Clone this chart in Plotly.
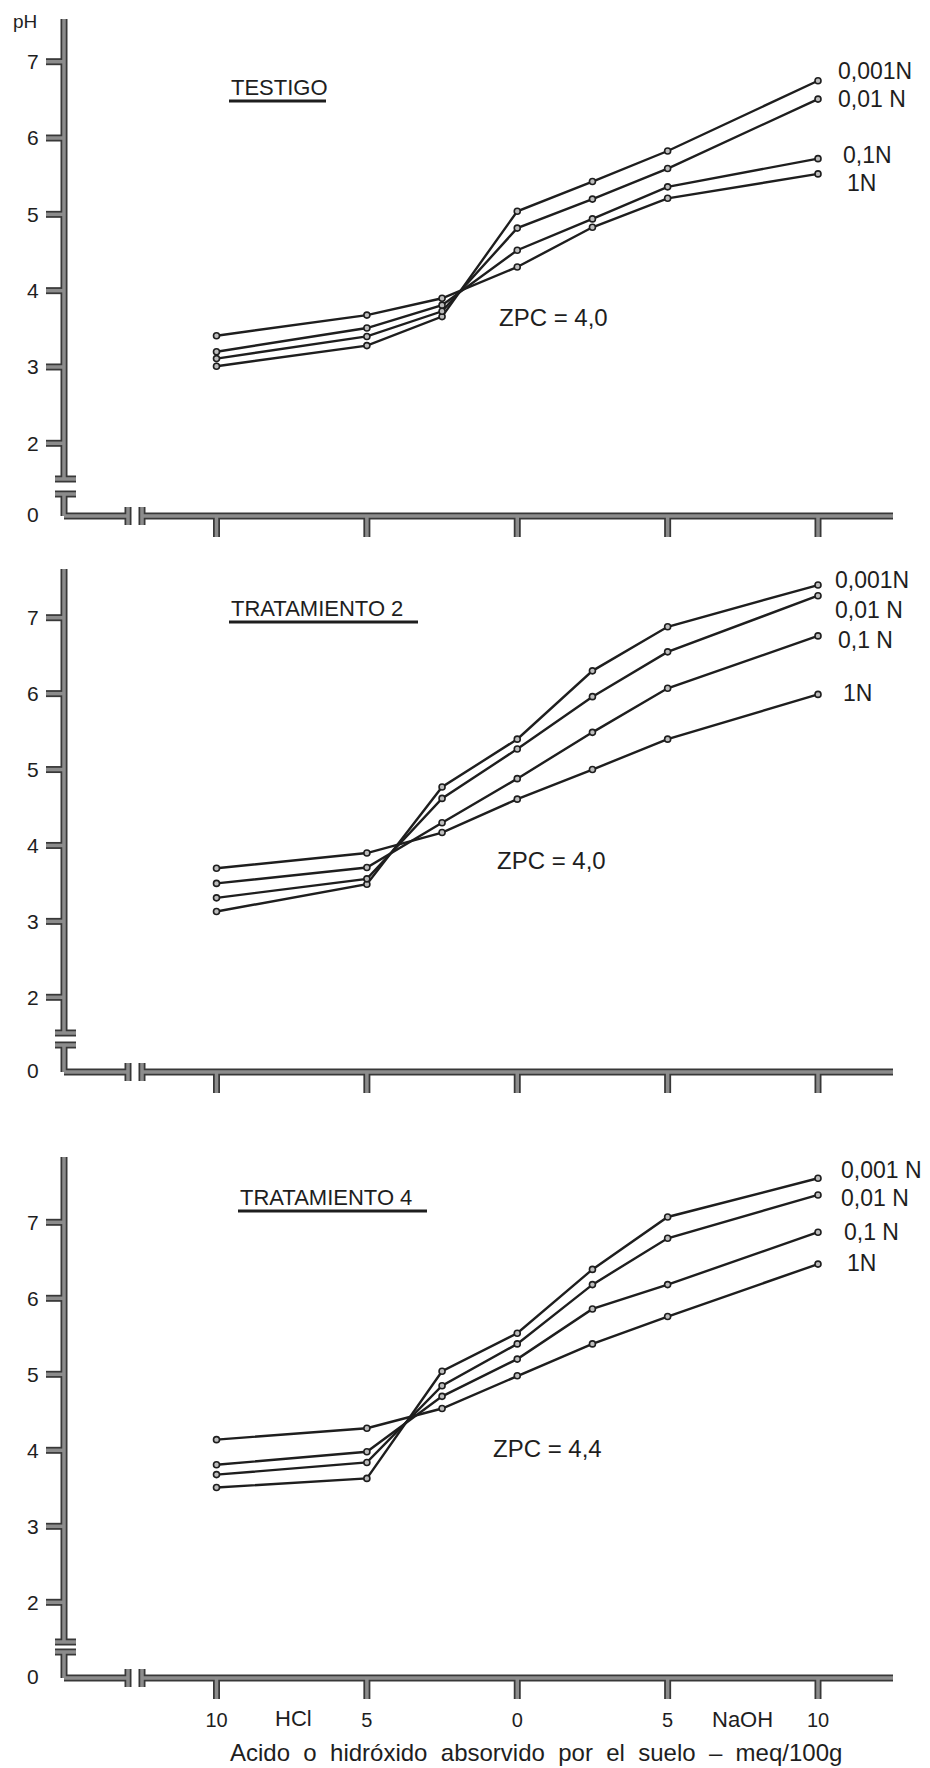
import plotly.graph_objects as go

# ---------------- data ----------------
X_MEQ = [-10, -5, -2.5, 0, 2.5, 5, 10]          # HCl (negative) ... NaOH (positive), meq/100g
X_TICKS = [-10, -5, 0, 5, 10]
X_TICKTEXT = ["10", "5", "0", "5", "10"]
Y_TICKS = [2, 3, 4, 5, 6, 7]

PANEL_TITLES = ["TESTIGO", "TRATAMIENTO 2", "TRATAMIENTO 4"]
ZPC_TEXT = ["ZPC = 4,0", "ZPC = 4,0", "ZPC = 4,4"]
SERIES_LABELS = [
    ["0,001N", "0,01 N", "0,1N", "1N"],
    ["0,001N", "0,01 N", "0,1 N", "1N"],
    ["0,001 N", "0,01 N", "0,1 N", "1N"],
]

# TESTIGO
T0_0001N = [3.01, 3.28, 3.66, 5.04, 5.43, 5.83, 6.75]
T0_001N = [3.11, 3.40, 3.73, 4.82, 5.20, 5.60, 6.51]
T0_01N = [3.20, 3.51, 3.81, 4.53, 4.94, 5.36, 5.73]
T0_1N = [3.41, 3.68, 3.90, 4.31, 4.83, 5.21, 5.53]
# TRATAMIENTO 2
T2_0001N = [3.13, 3.49, 4.77, 5.40, 6.30, 6.88, 7.43]
T2_001N = [3.31, 3.56, 4.62, 5.27, 5.96, 6.55, 7.29]
T2_01N = [3.50, 3.71, 4.30, 4.88, 5.49, 6.07, 6.76]
T2_1N = [3.70, 3.90, 4.17, 4.61, 5.00, 5.40, 5.99]
# TRATAMIENTO 4
T4_0001N = [3.51, 3.63, 5.04, 5.54, 6.38, 7.07, 7.58]
T4_001N = [3.68, 3.84, 4.85, 5.40, 6.18, 6.79, 7.36]
T4_01N = [3.81, 3.98, 4.71, 5.20, 5.86, 6.18, 6.87]
T4_1N = [4.14, 4.29, 4.55, 4.98, 5.40, 5.76, 6.45]

DATA = [
    [T0_0001N, T0_001N, T0_01N, T0_1N],
    [T2_0001N, T2_001N, T2_01N, T2_1N],
    [T4_0001N, T4_001N, T4_01N, T4_1N],
]

X_TITLE = "Acido  o  hidróxido  absorvido  por  el  suelo  –  meq/100g".replace("  ", " \u00a0")

# ---------------- layout geometry (pixels) ----------------
W, H = 930, 1768
X_PX_M10, X_PX_P10 = 216.5, 818.0
XPU = (X_PX_P10 - X_PX_M10) / 20.0


def xval(px):
    return -10 + (px - X_PX_M10) / XPU


PANELS = [
    dict(ph7=61.7, ph2=443.3, dom=(0, 545), top=19, cap1=479, cap2=494, axis=516,
         title=(229, 87, 326, 101), zpc=(497, 317),
         labels=[(836, 71), (836, 99), (841, 155), (845, 183)]),
    dict(ph7=617.7, ph2=997.3, dom=(550, 1100), top=569, cap1=1033, cap2=1045, axis=1072,
         title=(229, 608, 418, 622), zpc=(495, 860),
         labels=[(833, 580), (833, 610), (836, 640), (841, 693)]),
    dict(ph7=1222.3, ph2=1602.3, dom=(1110, 1768), top=1157, cap1=1642, cap2=1652, axis=1678,
         title=(238, 1197, 427, 1211), zpc=(491, 1448),
         labels=[(839, 1170), (839, 1198), (842, 1232), (845, 1263)]),
]

YAX_PX = 64
FONT = "Liberation Sans, Arial, sans-serif"
INK = "#1e1e1e"
AX_DARK = "#383838"
AX_GREY = "#8c8c8c"

fig = go.Figure()
shapes_dark, shapes_grey, annotations = [], [], []
layout_axes = {}


def px2paper(px, py):
    return px / W, 1 - py / H


for i, p in enumerate(PANELS):
    s = "" if i == 0 else str(i + 1)
    ppu = (p["ph2"] - p["ph7"]) / 5.0

    def ph(py, p=p, ppu=ppu):
        return 7 - (py - p["ph7"]) / ppu

    yr = [ph(p["dom"][1]), ph(p["dom"][0])]
    dom = [1 - p["dom"][1] / H, 1 - p["dom"][0] / H]
    last = i == len(PANELS) - 1

    layout_axes["xaxis" + s] = dict(
        domain=[0, 1], range=[xval(0), xval(W)], showgrid=False, zeroline=False,
        showline=False, ticks="outside", ticklen=24, tickcolor="rgba(0,0,0,0)",
        anchor="free", position=1 - p["axis"] / H,
        tickvals=X_TICKS, ticktext=X_TICKTEXT, showticklabels=last,
        tickfont=dict(family=FONT, size=20, color=INK),
    )
    layout_axes["yaxis" + s] = dict(
        domain=dom, range=yr, showgrid=False, zeroline=False, showline=False,
        ticks="outside", ticklen=21, tickcolor="rgba(0,0,0,0)",
        anchor="free", position=YAX_PX / W,
        tickvals=[ph(p["axis"]) + 0.02] + Y_TICKS,
        ticktext=["0"] + [str(v) for v in Y_TICKS],
        tickfont=dict(family=FONT, size=21, color=INK),
    )

    xr, yrf = "x" + s, "y" + s
    segs = [
        (xval(YAX_PX), ph(p["top"]), xval(YAX_PX), ph(p["cap1"])),
        (xval(55), ph(p["cap1"]), xval(76), ph(p["cap1"])),
        (xval(55), ph(p["cap2"]), xval(76), ph(p["cap2"])),
        (xval(YAX_PX), ph(p["cap2"]), xval(YAX_PX), ph(p["axis"])),
        (xval(YAX_PX), ph(p["axis"]), xval(128), ph(p["axis"])),
        (xval(128), ph(p["axis"] - 9), xval(128), ph(p["axis"] + 9)),
        (xval(142), ph(p["axis"] - 9), xval(142), ph(p["axis"] + 9)),
        (xval(142), ph(p["axis"]), xval(893), ph(p["axis"])),
    ]
    for xt in X_TICKS:
        segs.append((xt, ph(p["axis"]), xt, ph(p["axis"] + 21)))
    for yt in Y_TICKS:
        segs.append((xval(46), yt, xval(YAX_PX), yt))
    for (x0, y0, x1, y1) in segs:
        shapes_dark.append(dict(type="line", xref=xr, yref=yrf, x0=x0, y0=y0, x1=x1, y1=y1,
                                line=dict(color=AX_DARK, width=7), layer="below"))
        shapes_grey.append(dict(type="line", xref=xr, yref=yrf, x0=x0, y0=y0, x1=x1, y1=y1,
                                line=dict(color=AX_GREY, width=3.5), layer="below"))

    # data traces
    for ys in DATA[i]:
        fig.add_trace(go.Scatter(
            x=X_MEQ, y=ys, xaxis=xr, yaxis=yrf, mode="lines+markers",
            line=dict(color=INK, width=2.4),
            marker=dict(symbol="circle", size=6, color="#bdbdbd", line=dict(color=INK, width=1.6)),
            showlegend=False, hoverinfo="x+y", cliponaxis=False,
        ))

    # panel title + underline
    tx, ty, ux1, uy = p["title"]
    ax_, ay_ = px2paper(tx, ty)
    annotations.append(dict(text=PANEL_TITLES[i], x=ax_, y=ay_, xref="paper", yref="paper",
                            xanchor="left", yanchor="middle", showarrow=False,
                            font=dict(family=FONT, size=22, color=INK)))
    u0 = px2paper(tx, uy)
    u1 = px2paper(ux1, uy)
    shapes_grey.append(dict(type="line", xref="paper", yref="paper", x0=u0[0], y0=u0[1],
                            x1=u1[0], y1=u1[1], line=dict(color=INK, width=3)))

    zx, zy = px2paper(*p["zpc"])
    annotations.append(dict(text=ZPC_TEXT[i], x=zx, y=zy, xref="paper", yref="paper",
                            xanchor="left", yanchor="middle", showarrow=False,
                            font=dict(family=FONT, size=24, color=INK)))
    for lab, (lx, ly) in zip(SERIES_LABELS[i], p["labels"]):
        a, b = px2paper(lx, ly)
        annotations.append(dict(text=lab, x=a, y=b, xref="paper", yref="paper",
                                xanchor="left", yanchor="middle", showarrow=False,
                                font=dict(family=FONT, size=23, color=INK)))

# extra labels
for txt, (lx, ly), size in [("pH", (25, 22), 19), ("HCl", (293, 1718), 22),
                            ("NaOH", (742, 1719), 22),
                            (X_TITLE, (536, 1752), 24)]:
    a, b = px2paper(lx, ly)
    annotations.append(dict(text=txt, x=a, y=b, xref="paper", yref="paper",
                            xanchor="center", yanchor="middle", showarrow=False,
                            font=dict(family=FONT, size=size, color=INK)))

fig.update_layout(
    width=W, height=H, margin=dict(l=0, r=0, t=0, b=0),
    paper_bgcolor="white", plot_bgcolor="white",
    shapes=shapes_dark + shapes_grey, annotations=annotations,
    **layout_axes,
)

fig.write_html("out.html")
